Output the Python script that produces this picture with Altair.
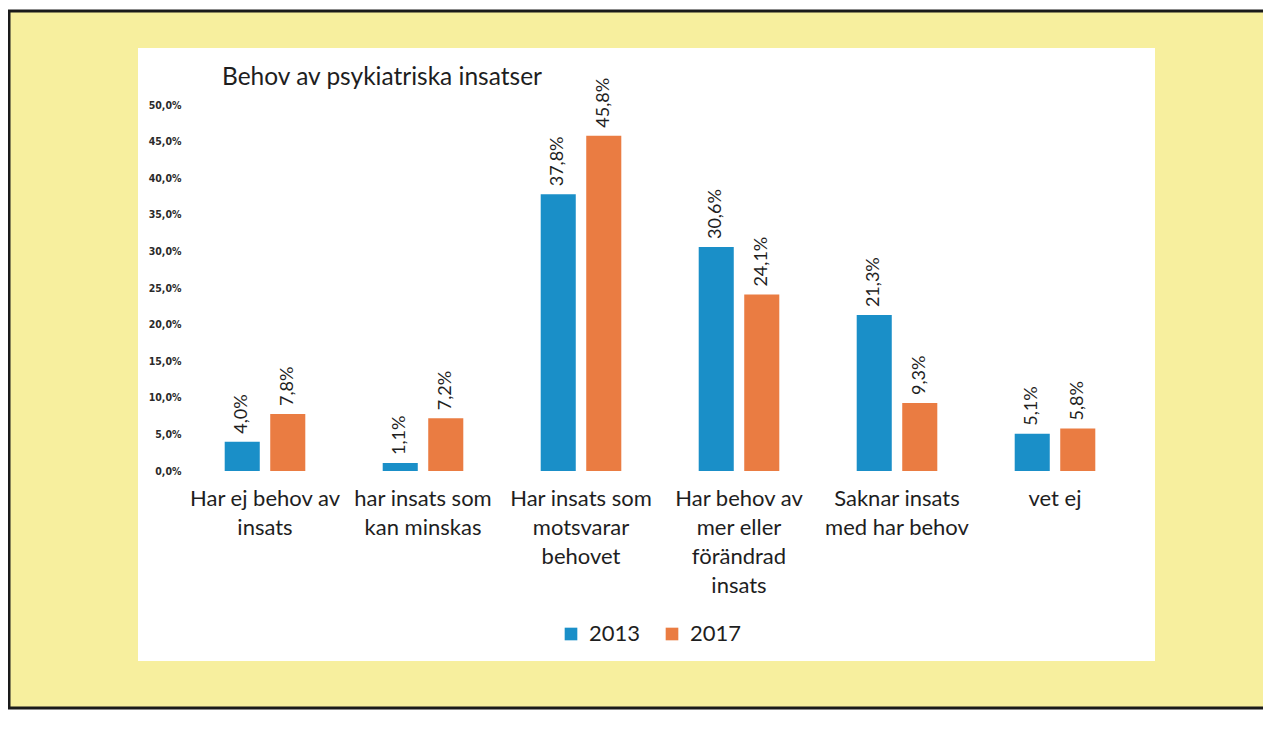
import altair as alt
import pandas as pd

title_text = "Behov av psykiatriska insatser"
categories = [
    "Har ej behov av\ninsats",
    "har insats som\nkan minskas",
    "Har insats som\nmotsvarar\nbehovet",
    "Har behov av\nmer eller\nförändrad\ninsats",
    "Saknar insats\nmed har behov",
    "vet ej",
]
years = ["2013", "2017"]
values_2013 = [4.0, 1.1, 37.8, 30.6, 21.3, 5.1]
values_2017 = [7.8, 7.2, 45.8, 24.1, 9.3, 5.8]
colors = ["#1a8fc8", "#ea7c42"]

rows = []
for c, v in zip(categories, values_2013):
    rows.append({"kategori": c, "år": "2013", "andel": v})
for c, v in zip(categories, values_2017):
    rows.append({"kategori": c, "år": "2017", "andel": v})
df = pd.DataFrame(rows)
df["etikett"] = df["andel"].map(lambda v: f"{v:.1f}".replace(".", ",") + "%")
one = pd.DataFrame({"t": [title_text]})

W, H = 948, 366

x = alt.X(
    "kategori:N",
    sort=categories,
    title=None,
    scale=alt.Scale(paddingInner=0, paddingOuter=0),
    axis=alt.Axis(
        labelAngle=0,
        ticks=False,
        domain=False,
        zindex=2,
        labelFont="Lato",
        labelFontSize=22,
        labelColor="#1e1e1e",
        labelPadding=17,
        labelLineHeight=29,
        labelLimit=0,
        labelExpr="split(datum.label, '\\n')",
    ),
)
xo = alt.XOffset(
    "år:N", sort=years, scale=alt.Scale(paddingInner=0.23, paddingOuter=0.85)
)
y = alt.Y(
    "andel:Q",
    title=None,
    scale=alt.Scale(domain=[0, 50], nice=False),
    axis=alt.Axis(
        values=[0, 5, 10, 15, 20, 25, 30, 35, 40, 45, 50],
        grid=False,
        ticks=False,
        domain=False,
        zindex=2,
        labelFont="DejaVu Sans Condensed, Liberation Sans, sans-serif",
        labelFontSize=10.5,
        labelFontWeight="bold",
        labelColor="#2a2a2a",
        labelPadding=5,
        labelExpr="replace(format(datum.value, '.1f'), '.', ',') + '%'",
    ),
)
color = alt.Color(
    "år:N",
    sort=years,
    scale=alt.Scale(domain=years, range=colors),
    legend=alt.Legend(
        title=None,
        orient="none",
        direction="horizontal",
        legendX=374,
        legendY=518,
        symbolType="square",
        symbolSize=160,
        symbolStrokeWidth=0,
        labelFont="Lato",
        labelFontSize=22,
        labelColor="#1e1e1e",
        labelOffset=7,
        columnPadding=20,
    ),
)

yellow = alt.Chart(one).mark_rect(fill="#f7ef9e", strokeWidth=0).encode(
    x=alt.value(-178), x2=alt.value(1077), y=alt.value(-94), y2=alt.value(603)
)
border_top = alt.Chart(one).mark_rule(color="#1a1a1a", strokeWidth=3).encode(
    x=alt.value(-178), x2=alt.value(1077), y=alt.value(-94)
)
border_left = alt.Chart(one).mark_rule(color="#1a1a1a", strokeWidth=3).encode(
    x=alt.value(-177), y=alt.value(-94), y2=alt.value(603)
)
border_bottom = alt.Chart(one).mark_rule(color="#1a1a1a", strokeWidth=3).encode(
    x=alt.value(-178), x2=alt.value(1077), y=alt.value(603)
)
white = alt.Chart(one).mark_rect(fill="#ffffff").encode(
    x=alt.value(-48), x2=alt.value(969), y=alt.value(-57), y2=alt.value(556)
)
title = alt.Chart(one).mark_text(
    align="left",
    baseline="middle",
    font="Lato",
    fontSize=24.5,
    color="#1e1e1e",
).encode(x=alt.value(36), y=alt.value(-27), text="t:N")

base = alt.Chart(df)
bars = base.mark_bar().encode(x=x, xOffset=xo, y=y, color=color)

labels = base.mark_text(
    angle=270,
    align="left",
    baseline="middle",
    dx=8,
    font="Lato",
    fontSize=18,
    color="#1e1e1e",
).encode(x=x, xOffset=xo, y=y, text="etikett:N")

chart = (
    alt.layer(
        yellow, border_top, border_left, border_bottom, white, title, bars, labels
    )
    .properties(
        width=W,
        height=H,
        autosize=alt.AutoSizeParams(type="none"),
        padding={"left": 178, "top": 97, "right": 129, "bottom": 242},
        background="#ffffff",
    )
    .configure_view(stroke=None)
)

chart.save("out.html", embed_options={"renderer": "svg", "actions": False})
